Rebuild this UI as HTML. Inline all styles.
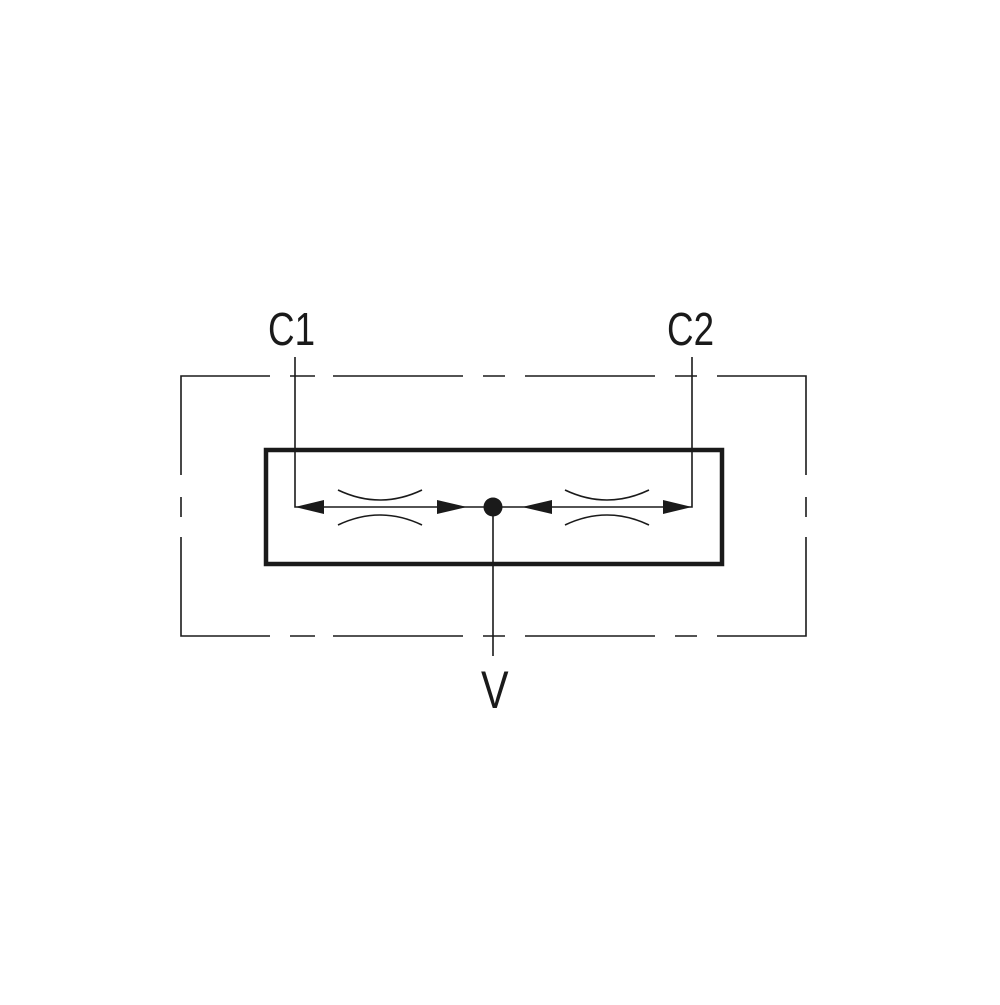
<!DOCTYPE html>
<html><head><style>body{margin:0;background:#fff}</style></head><body>
<svg width="1000" height="1000" viewBox="0 0 1000 1000" xmlns="http://www.w3.org/2000/svg">
<rect width="1000" height="1000" fill="#fff"/>
<g stroke="#1a1a1a" stroke-width="1.6" fill="none">
<path d="M270 376H181V475M181 497V517M181 537V636H270M290 376H315M333 376H463M483 376H505M525 376H655M675 376H697M717 376H806V475M806 497V517M806 537V636H717M290 636H315M333 636H463M483 636H505M525 636H655M675 636H697"/>
<path d="M295 357V507H692V357M493 507V656"/>
<path d="M338 490Q380 510 422 490M338 525Q380 505 422 525M565 490Q607 510 649 490M565 525Q607 505 649 525"/>
</g>
<rect x="266" y="450" width="456" height="114" fill="none" stroke="#1a1a1a" stroke-width="4.5"/>
<g fill="#1a1a1a">
<path d="M295 507L324 500V514Z"/><path d="M467 507L437 500V514Z"/>
<path d="M522 507L552 500V514Z"/><path d="M692 507L663 500V514Z"/>
<circle cx="493" cy="507" r="9.5"/>
</g>
<g font-family="Liberation Sans, sans-serif" fill="#1a1a1a">
<text x="0" y="0" font-size="46" transform="translate(268,345) scale(0.8,1)">C1</text>
<text x="0" y="0" font-size="46" transform="translate(667,345) scale(0.8,1)">C2</text>
<text x="0" y="0" font-size="53" transform="translate(481,708) scale(0.78,1)">V</text>
</g>
</svg>
</body></html>
